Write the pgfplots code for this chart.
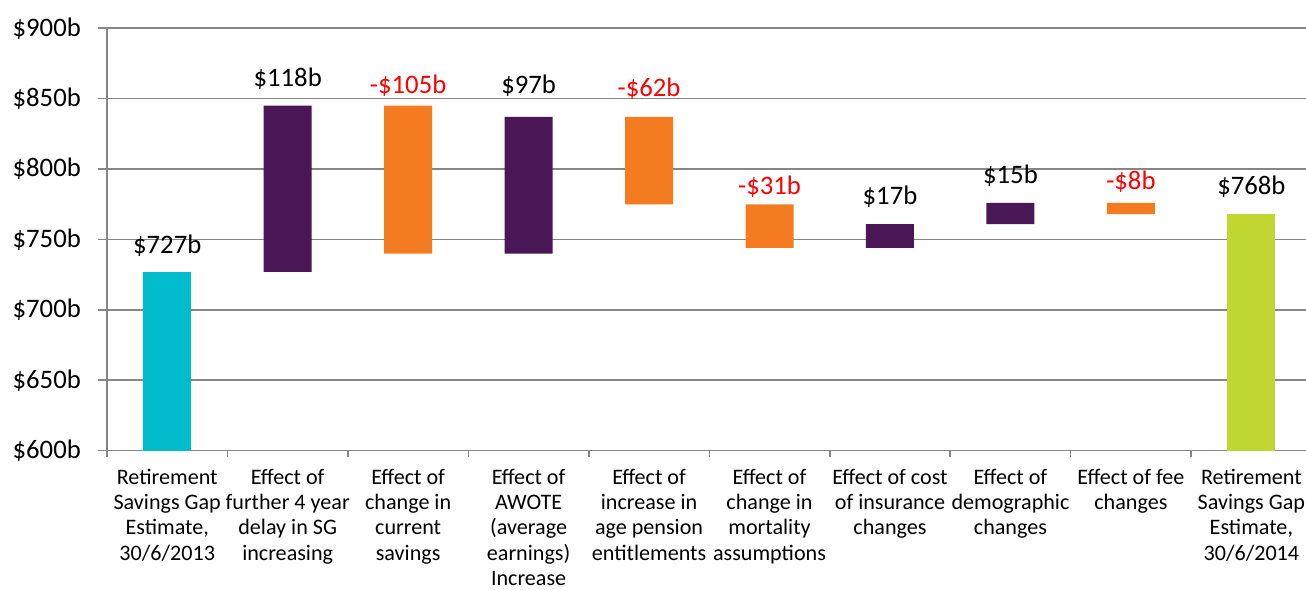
\documentclass[border=0pt]{standalone}
\usepackage{fontspec}
\setmainfont{Carlito}
\usepackage{pgfplots}
\pgfplotsset{compat=1.18}
\definecolor{cCyan}{RGB}{0,188,204}
\definecolor{cPurple}{RGB}{75,22,85}
\definecolor{cOrange}{RGB}{244,123,32}
\definecolor{cGreen}{RGB}{192,215,49}
\definecolor{cGrid}{RGB}{134,134,134}
\definecolor{cRed}{RGB}{255,0,0}
\newcommand\cl[1]{\begin{tabular}[t]{@{}c@{}}#1\end{tabular}}
\begin{document}
\begin{tikzpicture}
\pgfplotsset{common/.style={at={(107bp,139.3bp)}, anchor=south west, scale only axis,
  width=1199bp, height=422.4bp, xmin=-0.5, xmax=9.454, ymin=600, ymax=900}}
\begin{axis}[common, ybar stacked, bar width=48bp,
  axis x line*=bottom, axis y line*=left,
  axis line style={cGrid, line width=1.6bp},
  ymajorgrids, grid style={cGrid, line width=1.6bp},
  tick align=outside, major tick length=9bp, minor tick length=6bp,
  tick style={cGrid, line width=1.6bp},
  ytick={600,650,...,900},
  yticklabels={\$600b,\$650b,\$700b,\$750b,\$800b,\$850b,\$900b},
  yticklabel style={font=\fontsize{26.8}{32}\selectfont, anchor=east, inner sep=0pt, xshift=-17bp},
  xtick={0,...,9}, major x tick style={draw=none},
  minor xtick={-0.5,0.5,...,8.5},
  xticklabels={
    {\cl{Retirement\\Savings Gap\\Estimate,\\30/6/2013}},
    {\cl{Effect of\\further 4 year\\delay in SG\\increasing}},
    {\cl{Effect of\\change in\\current\\savings}},
    {\cl{Effect of\\AWOTE\\(average\\earnings)\\Increase}},
    {\cl{Effect of\\increase in\\age pension\\entitlements}},
    {\cl{Effect of\\change in\\mortality\\assumptions}},
    {\cl{Effect of cost\\of insurance\\changes}},
    {\cl{Effect of\\demographic\\changes}},
    {\cl{Effect of fee\\changes}},
    {\cl{Retirement\\Savings Gap\\Estimate,\\30/6/2014}}},
  xticklabel style={font=\fontsize{22.2}{25.4}\selectfont, anchor=north, inner sep=0pt, yshift=-6.5bp},
]
% invisible base
\addplot[draw=none, fill=none] coordinates {(0,0) (1,727) (2,740) (3,740) (4,775) (5,744) (6,744) (7,761) (8,768) (9,0)};
% cyan
\addplot[draw=none, fill=cCyan] coordinates {(0,727) (1,0) (2,0) (3,0) (4,0) (5,0) (6,0) (7,0) (8,0) (9,0)};
% purple (increases)
\addplot[draw=none, fill=cPurple] coordinates {(0,0) (1,118) (2,0) (3,97) (4,0) (5,0) (6,17) (7,15) (8,0) (9,0)};
% orange (decreases)
\addplot[draw=none, fill=cOrange] coordinates {(0,0) (1,0) (2,105) (3,0) (4,62) (5,31) (6,0) (7,0) (8,8) (9,0)};
% green
\addplot[draw=none, fill=cGreen] coordinates {(0,0) (1,0) (2,0) (3,0) (4,0) (5,0) (6,0) (7,0) (8,0) (9,768)};
\end{axis}
\begin{axis}[common, hide axis]
\addplot[draw=none, nodes near coords, point meta=explicit symbolic,
  nodes near coords style={anchor=base, inner sep=0pt, text=black, font=\fontsize{26.8}{32}\selectfont}]
  coordinates {(0,740.2)[\$727b] (1,858.5)[\$118b] (3,853.8)[\$97b] (6,774.5)[\$17b] (7,789.9)[\$15b] (9,782.1)[\$768b]};
\addplot[draw=none, nodes near coords, point meta=explicit symbolic,
  nodes near coords style={anchor=base, inner sep=0pt, text=cRed, font=\fontsize{26.8}{32}\selectfont}]
  coordinates {(2,853.8)[-\$105b] (4,851.9)[-\$62b] (5,782.1)[-\$31b] (8,785.2)[-\$8b]};
\end{axis}
\pgfresetboundingbox
\path[use as bounding box] (0,0) rectangle (1306bp,590bp);
\end{tikzpicture}
\end{document}
